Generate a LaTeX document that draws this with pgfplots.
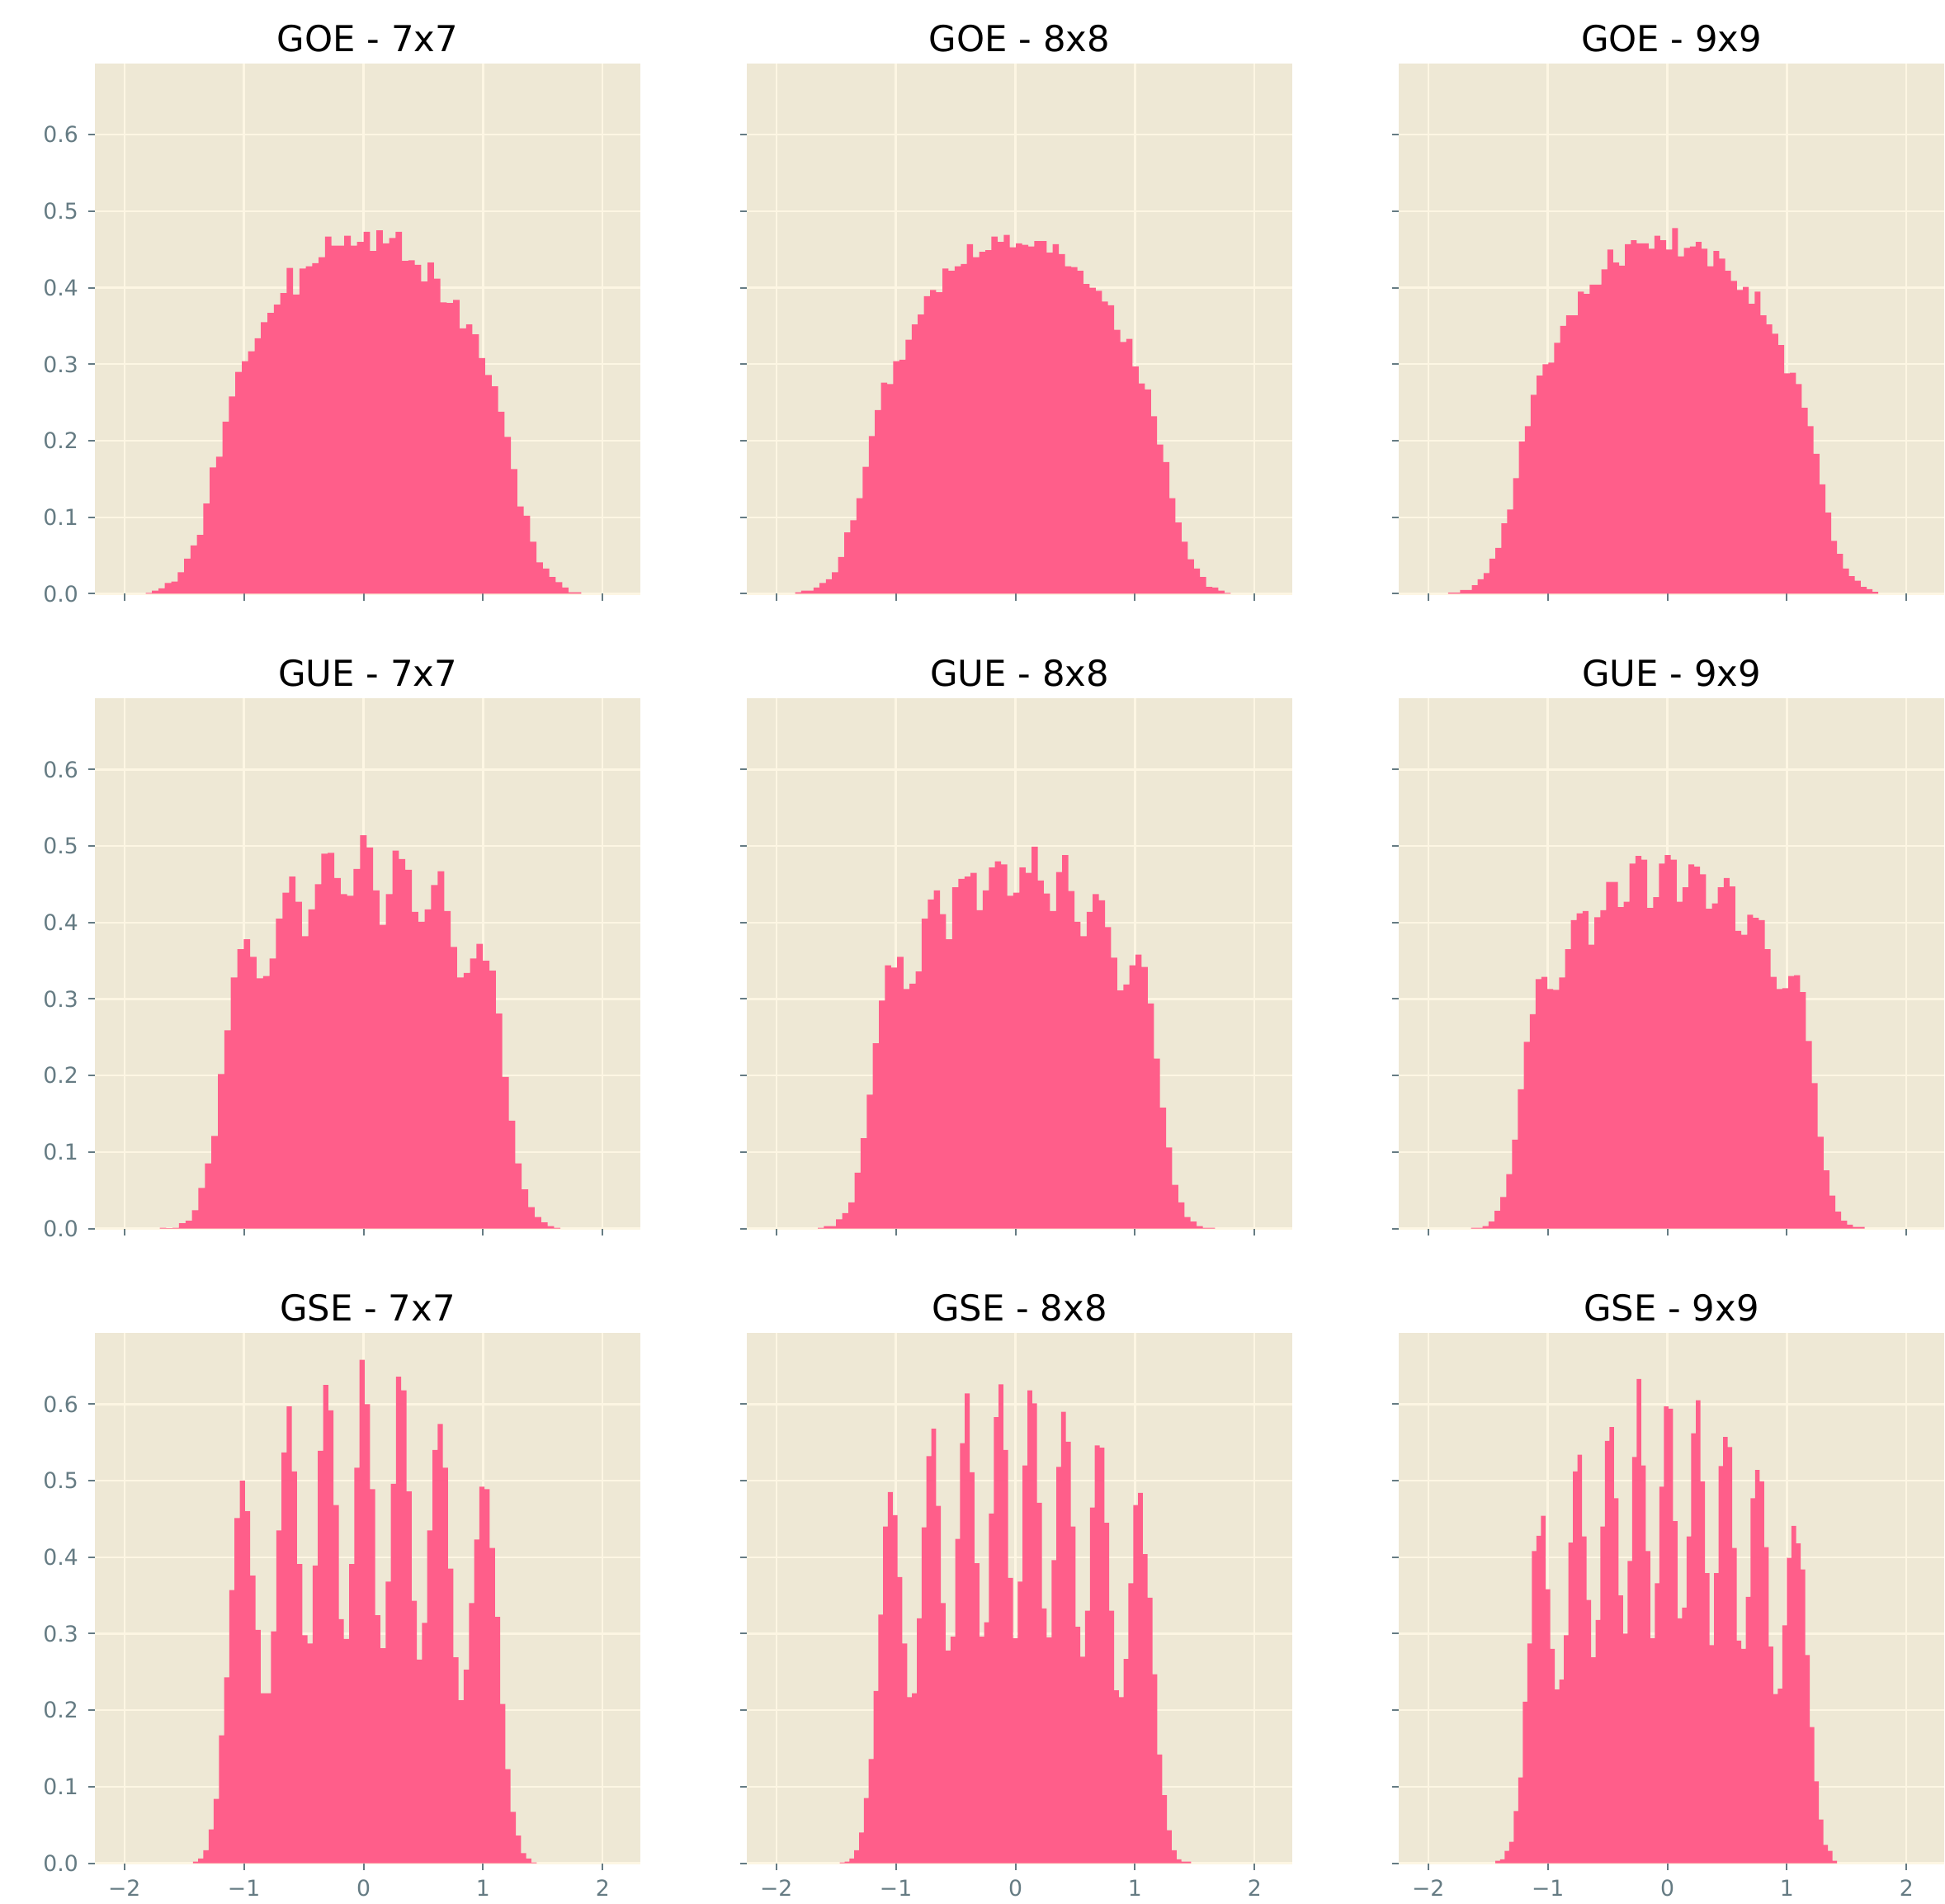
\documentclass[border=0pt]{standalone}
\usepackage{fontspec}
\setmainfont{DejaVu Sans}
\usepackage{pgfplots}
\pgfplotsset{compat=1.18}
\definecolor{bgc}{HTML}{EEE8D5}
\definecolor{gridc}{HTML}{FDF6E3}
\definecolor{tickc}{HTML}{657B83}
\definecolor{barc}{RGB}{255,94,138}
\pgfplotsset{
  panel/.style={
    scale only axis, width=198.3pt, height=192.7pt,
    anchor=south west,
    xmin=-2.247, xmax=2.316, ymin=0, ymax=0.693,
    axis background/.style={fill=bgc},
    axis line style={draw=none},
    grid=major, grid style={gridc, line width=0.7pt},
    xtick={-2,-1,0,1,2}, ytick={0,0.1,0.2,0.3,0.4,0.5,0.6},
    tick align=outside, tick pos=left,
    major tick length=2.5pt,
    tick style={tickc, line width=0.6pt},
    xticklabels={}, yticklabels={},
    tick label style={font=\fontsize{8}{9.6}\selectfont, text=tickc},
    title style={font=\fontsize{13}{15.6}\selectfont, text=black, at={(0.5,1)}, anchor=base, yshift=-1.7pt},
  },
  ylab/.style={yticklabels={0.0,0.1,0.2,0.3,0.4,0.5,0.6}},
  xlab/.style={xticklabels={−2,−1,0,1,2}},
  hist/.style={fill=barc, draw=none, const plot mark left},
}
\begin{document}
\begin{tikzpicture}
\useasboundingbox (0,0) rectangle (707.1pt,691.8pt);
% ---------------- Row 1: GOE
\begin{axis}[panel, ylab, at={(34.5pt,475.98pt)}, title={GOE - 7x7}]
\addplot[hist] coordinates {(-1.822,0.001)(-1.769,0.004)(-1.715,0.007)(-1.662,0.014)(-1.608,0.016)(-1.554,0.028)(-1.501,0.046)(-1.447,0.063)(-1.394,0.077)(-1.340,0.118)(-1.286,0.165)(-1.233,0.179)(-1.179,0.225)(-1.126,0.258)(-1.072,0.290)(-1.018,0.304)(-0.965,0.317)(-0.911,0.334)(-0.858,0.355)(-0.804,0.367)(-0.750,0.378)(-0.697,0.393)(-0.643,0.426)(-0.590,0.391)(-0.536,0.425)(-0.482,0.428)(-0.429,0.432)(-0.375,0.440)(-0.322,0.467)(-0.268,0.455)(-0.214,0.455)(-0.161,0.468)(-0.107,0.455)(-0.054,0.460)(0,0.473)(0.054,0.448)(0.107,0.475)(0.161,0.458)(0.214,0.465)(0.268,0.473)(0.322,0.435)(0.375,0.436)(0.429,0.430)(0.482,0.408)(0.536,0.433)(0.590,0.412)(0.643,0.381)(0.697,0.380)(0.750,0.384)(0.804,0.347)(0.858,0.352)(0.911,0.339)(0.965,0.308)(1.018,0.286)(1.072,0.271)(1.126,0.238)(1.179,0.205)(1.233,0.163)(1.286,0.114)(1.340,0.102)(1.394,0.068)(1.447,0.041)(1.501,0.033)(1.554,0.022)(1.608,0.015)(1.662,0.008)(1.715,0.002)(1.769,0.002)(1.822,0.002)} \closedcycle;
\end{axis}
\begin{axis}[panel, at={(271.5pt,475.98pt)}, title={GOE - 8x8}]
\addplot[hist] coordinates {(-1.843,0.002)(-1.792,0.004)(-1.740,0.004)(-1.689,0.008)(-1.638,0.014)(-1.586,0.019)(-1.535,0.028)(-1.484,0.048)(-1.432,0.080)(-1.381,0.096)(-1.330,0.125)(-1.278,0.166)(-1.227,0.206)(-1.176,0.240)(-1.125,0.276)(-1.073,0.274)(-1.022,0.304)(-0.971,0.306)(-0.919,0.332)(-0.868,0.352)(-0.817,0.365)(-0.765,0.389)(-0.714,0.397)(-0.663,0.394)(-0.611,0.425)(-0.560,0.422)(-0.509,0.428)(-0.457,0.431)(-0.406,0.457)(-0.355,0.440)(-0.303,0.447)(-0.252,0.449)(-0.201,0.467)(-0.149,0.460)(-0.098,0.469)(-0.047,0.453)(0.005,0.458)(0.056,0.456)(0.107,0.454)(0.158,0.461)(0.210,0.461)(0.261,0.446)(0.312,0.457)(0.364,0.444)(0.415,0.428)(0.466,0.427)(0.518,0.422)(0.569,0.405)(0.620,0.400)(0.672,0.396)(0.723,0.382)(0.774,0.377)(0.826,0.345)(0.877,0.329)(0.928,0.333)(0.980,0.297)(1.031,0.275)(1.082,0.267)(1.134,0.232)(1.185,0.195)(1.236,0.172)(1.288,0.125)(1.339,0.093)(1.390,0.068)(1.441,0.045)(1.493,0.033)(1.544,0.022)(1.595,0.009)(1.647,0.008)(1.698,0.004)(1.749,0.001)(1.801,0.001)} \closedcycle;
\end{axis}
\begin{axis}[panel, at={(508.5pt,475.98pt)}, title={GOE - 9x9}]
\addplot[hist] coordinates {(-1.833,0.0015)(-1.784,0.0015)(-1.734,0.005)(-1.685,0.005)(-1.636,0.011)(-1.587,0.019)(-1.537,0.027)(-1.488,0.046)(-1.439,0.060)(-1.389,0.092)(-1.340,0.110)(-1.291,0.151)(-1.242,0.199)(-1.192,0.219)(-1.143,0.260)(-1.094,0.285)(-1.044,0.300)(-0.995,0.302)(-0.946,0.328)(-0.896,0.350)(-0.847,0.364)(-0.798,0.364)(-0.749,0.395)(-0.699,0.392)(-0.650,0.404)(-0.601,0.404)(-0.551,0.424)(-0.502,0.450)(-0.453,0.433)(-0.404,0.429)(-0.354,0.457)(-0.305,0.462)(-0.256,0.458)(-0.206,0.458)(-0.157,0.451)(-0.108,0.468)(-0.059,0.462)(-0.009,0.450)(0.040,0.478)(0.089,0.441)(0.139,0.452)(0.188,0.454)(0.237,0.460)(0.286,0.451)(0.336,0.428)(0.385,0.448)(0.434,0.438)(0.484,0.422)(0.533,0.409)(0.582,0.397)(0.632,0.401)(0.681,0.379)(0.730,0.395)(0.779,0.364)(0.829,0.352)(0.878,0.340)(0.927,0.325)(0.977,0.288)(1.026,0.289)(1.075,0.274)(1.124,0.243)(1.174,0.219)(1.223,0.183)(1.272,0.143)(1.322,0.106)(1.371,0.069)(1.420,0.052)(1.469,0.033)(1.519,0.023)(1.568,0.017)(1.617,0.009)(1.667,0.006)(1.716,0.0025)(1.765,0.0025)} \closedcycle;
\end{axis}
% ---------------- Row 2: GUE
\begin{axis}[panel, ylab, at={(34.5pt,245.25pt)}, title={GUE - 7x7}]
\addplot[hist] coordinates {(-1.705,0.001)(-1.651,0.0005)(-1.597,0.001)(-1.543,0.007)(-1.489,0.010)(-1.435,0.024)(-1.381,0.053)(-1.326,0.085)(-1.272,0.121)(-1.218,0.202)(-1.164,0.259)(-1.110,0.328)(-1.056,0.365)(-1.002,0.378)(-0.948,0.355)(-0.894,0.327)(-0.840,0.330)(-0.786,0.353)(-0.732,0.405)(-0.678,0.439)(-0.623,0.460)(-0.569,0.427)(-0.515,0.382)(-0.461,0.417)(-0.407,0.450)(-0.353,0.490)(-0.299,0.491)(-0.245,0.458)(-0.191,0.437)(-0.137,0.435)(-0.083,0.470)(-0.029,0.514)(0.026,0.498)(0.080,0.442)(0.134,0.397)(0.188,0.437)(0.242,0.494)(0.296,0.483)(0.350,0.469)(0.404,0.414)(0.458,0.401)(0.512,0.417)(0.566,0.449)(0.620,0.467)(0.675,0.415)(0.729,0.368)(0.783,0.328)(0.837,0.334)(0.891,0.353)(0.945,0.372)(0.999,0.350)(1.053,0.337)(1.107,0.281)(1.161,0.198)(1.215,0.141)(1.269,0.085)(1.323,0.051)(1.378,0.028)(1.432,0.015)(1.486,0.008)(1.540,0.003)(1.594,0.001)(1.648,0.001)} \closedcycle;
\end{axis}
\begin{axis}[panel, at={(271.5pt,245.25pt)}, title={GUE - 8x8}]
\addplot[hist] coordinates {(-1.653,0.001)(-1.602,0.003)(-1.551,0.003)(-1.500,0.012)(-1.449,0.020)(-1.397,0.034)(-1.346,0.073)(-1.295,0.118)(-1.244,0.175)(-1.193,0.242)(-1.142,0.298)(-1.091,0.344)(-1.040,0.341)(-0.989,0.355)(-0.937,0.313)(-0.886,0.320)(-0.835,0.336)(-0.784,0.405)(-0.733,0.430)(-0.682,0.442)(-0.631,0.411)(-0.580,0.378)(-0.529,0.446)(-0.477,0.457)(-0.426,0.460)(-0.375,0.465)(-0.324,0.416)(-0.273,0.442)(-0.222,0.472)(-0.171,0.480)(-0.120,0.476)(-0.069,0.435)(-0.018,0.439)(0.034,0.472)(0.085,0.465)(0.136,0.499)(0.187,0.455)(0.238,0.438)(0.289,0.415)(0.340,0.466)(0.391,0.488)(0.442,0.441)(0.494,0.401)(0.545,0.382)(0.596,0.414)(0.647,0.437)(0.698,0.429)(0.749,0.394)(0.800,0.354)(0.851,0.311)(0.903,0.319)(0.954,0.344)(1.005,0.358)(1.056,0.342)(1.107,0.294)(1.158,0.222)(1.209,0.158)(1.260,0.106)(1.311,0.057)(1.362,0.034)(1.414,0.015)(1.465,0.009)(1.516,0.003)(1.567,0.001)(1.618,0.001)(1.669,0.001)} \closedcycle;
\end{axis}
\begin{axis}[panel, at={(508.5pt,245.25pt)}, title={GUE - 9x9}]
\addplot[hist] coordinates {(-1.643,0.001)(-1.594,0.001)(-1.545,0.003)(-1.496,0.009)(-1.446,0.023)(-1.397,0.041)(-1.348,0.071)(-1.299,0.116)(-1.250,0.182)(-1.201,0.244)(-1.151,0.280)(-1.102,0.326)(-1.053,0.329)(-1.004,0.313)(-0.955,0.312)(-0.906,0.328)(-0.856,0.365)(-0.807,0.403)(-0.758,0.412)(-0.709,0.415)(-0.660,0.371)(-0.611,0.407)(-0.561,0.416)(-0.512,0.453)(-0.463,0.453)(-0.414,0.420)(-0.365,0.427)(-0.316,0.477)(-0.267,0.487)(-0.217,0.482)(-0.168,0.419)(-0.119,0.433)(-0.070,0.477)(-0.021,0.488)(0.028,0.482)(0.078,0.427)(0.127,0.446)(0.176,0.476)(0.225,0.473)(0.274,0.463)(0.323,0.418)(0.373,0.425)(0.422,0.446)(0.471,0.458)(0.520,0.447)(0.569,0.389)(0.618,0.384)(0.668,0.410)(0.717,0.406)(0.766,0.403)(0.815,0.365)(0.864,0.329)(0.913,0.313)(0.962,0.314)(1.012,0.330)(1.061,0.331)(1.110,0.309)(1.159,0.245)(1.208,0.190)(1.257,0.120)(1.307,0.076)(1.356,0.043)(1.405,0.022)(1.454,0.010)(1.503,0.005)(1.552,0.002)(1.602,0.002)(1.651,0.002)} \closedcycle;
\end{axis}
% ---------------- Row 3: GSE
\begin{axis}[panel, ylab, xlab, at={(34.5pt,14.55pt)}, title={GSE - 7x7}]
\addplot[hist] coordinates {(-1.427,0.002)(-1.383,0.006)(-1.340,0.017)(-1.296,0.044)(-1.253,0.084)(-1.209,0.167)(-1.166,0.243)(-1.122,0.357)(-1.079,0.451)(-1.035,0.500)(-0.991,0.460)(-0.948,0.376)(-0.904,0.305)(-0.861,0.222)(-0.817,0.222)(-0.774,0.303)(-0.730,0.435)(-0.686,0.537)(-0.643,0.597)(-0.599,0.512)(-0.556,0.391)(-0.512,0.298)(-0.469,0.287)(-0.425,0.389)(-0.382,0.539)(-0.338,0.625)(-0.294,0.592)(-0.251,0.468)(-0.207,0.319)(-0.164,0.293)(-0.120,0.391)(-0.077,0.517)(-0.033,0.658)(0.010,0.600)(0.054,0.489)(0.098,0.324)(0.141,0.281)(0.185,0.368)(0.228,0.496)(0.272,0.636)(0.315,0.618)(0.359,0.486)(0.403,0.343)(0.446,0.266)(0.490,0.314)(0.533,0.435)(0.577,0.540)(0.620,0.574)(0.664,0.517)(0.707,0.385)(0.751,0.269)(0.795,0.213)(0.838,0.253)(0.882,0.340)(0.925,0.423)(0.969,0.492)(1.012,0.489)(1.056,0.412)(1.100,0.322)(1.143,0.208)(1.187,0.123)(1.230,0.067)(1.274,0.036)(1.317,0.013)(1.361,0.006)(1.404,0.001)(1.448,0.001)} \closedcycle;
\end{axis}
\begin{axis}[panel, xlab, at={(271.5pt,14.55pt)}, title={GSE - 8x8}]
\addplot[hist] coordinates {(-1.469,0.001)(-1.429,0.002)(-1.389,0.006)(-1.348,0.017)(-1.308,0.040)(-1.268,0.085)(-1.228,0.136)(-1.187,0.225)(-1.147,0.325)(-1.107,0.440)(-1.067,0.485)(-1.026,0.455)(-0.986,0.374)(-0.946,0.287)(-0.906,0.217)(-0.865,0.222)(-0.825,0.320)(-0.785,0.439)(-0.745,0.532)(-0.704,0.568)(-0.664,0.467)(-0.624,0.340)(-0.584,0.278)(-0.543,0.296)(-0.503,0.424)(-0.463,0.549)(-0.423,0.614)(-0.383,0.511)(-0.342,0.392)(-0.302,0.296)(-0.262,0.315)(-0.222,0.457)(-0.181,0.583)(-0.141,0.626)(-0.101,0.540)(-0.061,0.373)(-0.020,0.294)(0.020,0.368)(0.060,0.520)(0.100,0.618)(0.141,0.601)(0.181,0.471)(0.221,0.333)(0.261,0.295)(0.302,0.396)(0.342,0.518)(0.382,0.590)(0.422,0.551)(0.463,0.440)(0.503,0.309)(0.543,0.270)(0.583,0.330)(0.623,0.465)(0.664,0.546)(0.704,0.543)(0.744,0.445)(0.784,0.330)(0.825,0.226)(0.865,0.217)(0.905,0.267)(0.945,0.366)(0.986,0.468)(1.026,0.484)(1.066,0.404)(1.106,0.347)(1.147,0.247)(1.187,0.142)(1.227,0.089)(1.267,0.043)(1.308,0.017)(1.348,0.005)(1.388,0.002)(1.428,0.002)(1.469,0.002)} \closedcycle;
\end{axis}
\begin{axis}[panel, xlab, at={(508.5pt,14.55pt)}, title={GSE - 9x9}]
\addplot[hist] coordinates {(-1.438,0.003)(-1.399,0.005)(-1.361,0.016)(-1.323,0.028)(-1.285,0.068)(-1.247,0.112)(-1.209,0.211)(-1.171,0.287)(-1.133,0.408)(-1.095,0.428)(-1.057,0.454)(-1.019,0.358)(-0.980,0.280)(-0.942,0.227)(-0.904,0.240)(-0.866,0.298)(-0.828,0.419)(-0.790,0.512)(-0.752,0.534)(-0.714,0.427)(-0.676,0.344)(-0.638,0.269)(-0.600,0.318)(-0.561,0.440)(-0.523,0.552)(-0.485,0.570)(-0.447,0.477)(-0.409,0.350)(-0.371,0.300)(-0.333,0.395)(-0.295,0.531)(-0.257,0.633)(-0.219,0.520)(-0.181,0.408)(-0.142,0.294)(-0.104,0.366)(-0.066,0.492)(-0.028,0.597)(0.010,0.594)(0.048,0.447)(0.086,0.320)(0.124,0.334)(0.162,0.427)(0.200,0.562)(0.238,0.605)(0.277,0.499)(0.315,0.379)(0.353,0.285)(0.391,0.379)(0.429,0.519)(0.467,0.557)(0.505,0.544)(0.543,0.412)(0.581,0.291)(0.619,0.280)(0.657,0.348)(0.696,0.477)(0.734,0.514)(0.772,0.499)(0.810,0.413)(0.848,0.283)(0.886,0.221)(0.924,0.228)(0.962,0.311)(1.000,0.399)(1.038,0.441)(1.077,0.418)(1.115,0.384)(1.153,0.272)(1.191,0.178)(1.229,0.107)(1.267,0.057)(1.305,0.024)(1.343,0.016)(1.381,0.003)(1.419,0.003)} \closedcycle;
\end{axis}
\end{tikzpicture}
\end{document}
